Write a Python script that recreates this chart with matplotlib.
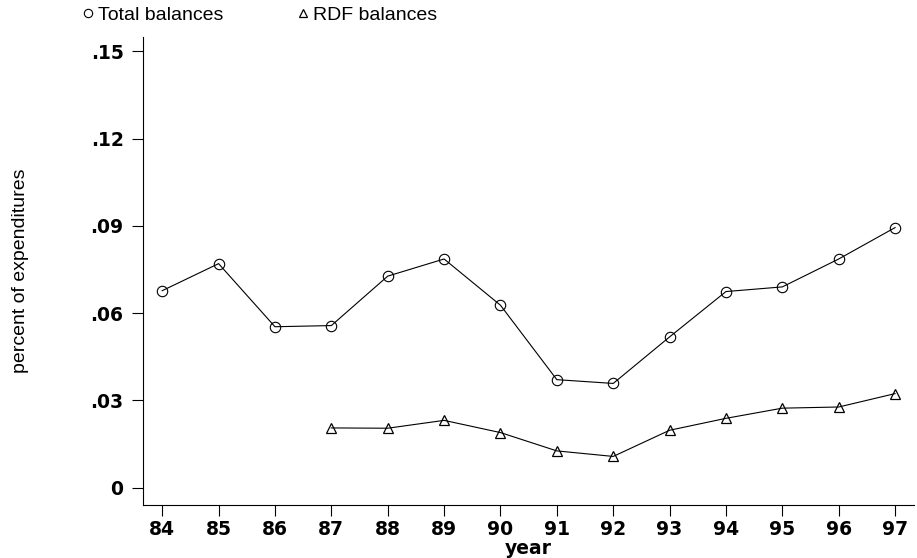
import matplotlib
matplotlib.use("Agg")
import matplotlib.pyplot as plt

years = [84, 85, 86, 87, 88, 89, 90, 91, 92, 93, 94, 95, 96, 97]
total_balances = [0.0677, 0.0770, 0.0553, 0.0557, 0.0727, 0.0786, 0.0627, 0.0371,
                  0.0358, 0.0518, 0.0674, 0.0690, 0.0786, 0.0894]
rdf_years = [87, 88, 89, 90, 91, 92, 93, 94, 95, 96, 97]
rdf_balances = [0.0205, 0.0204, 0.0231, 0.0189, 0.0126, 0.0107, 0.0197, 0.0238,
                0.0273, 0.0277, 0.0323]

ytick_vals = [0, 0.03, 0.06, 0.09, 0.12, 0.15]
ytick_labels = ["0", ".03", ".06", ".09", ".12", ".15"]

plt.rcParams["font.family"] = ["Liberation Sans", "DejaVu Sans"]

fig = plt.figure(figsize=(9.17, 5.58), dpi=100)
ax = fig.add_axes([0.156, 0.095, 0.841, 0.839])

l1, = ax.plot(years, total_balances, color="black", lw=0.8, marker="o", ms=7.5,
              mfc="none", mec="black", mew=0.8, label="Total balances")
l2, = ax.plot(rdf_years, rdf_balances, color="black", lw=0.8, marker="^", ms=7.5,
              mfc="none", mec="black", mew=0.9, label="RDF balances")

ax.set_xlim(83.66, 97.34)
ax.set_ylim(-0.006, 0.155)
ax.set_xticks(years)
ax.set_xticklabels([str(y) for y in years])
ax.set_yticks(ytick_vals)
ax.set_yticklabels(ytick_labels)

for s in ["top", "right"]:
    ax.spines[s].set_visible(False)
for s in ["left", "bottom"]:
    ax.spines[s].set_linewidth(0.8)

ax.tick_params(direction="out", length=8, width=0.8, labelsize=13.5)
ax.tick_params(axis="x", pad=3)
ax.tick_params(axis="y", pad=6)
for lab in ax.get_xticklabels() + ax.get_yticklabels():
    lab.set_family("DejaVu Sans")
    lab.set_fontweight("bold")

ax.set_xlabel("year", fontsize=13.5, fontweight="bold", family="DejaVu Sans",
              labelpad=0)
ax.set_ylabel("percent of expenditures", fontsize=14, labelpad=44)

leg = fig.legend([l1, l2], ["Total balances", "RDF balances"], ncol=2,
                 loc="upper left", bbox_to_anchor=(0.0774, 1.02), frameon=False,
                 fontsize=14, markerscale=0.8, handlelength=0.0, handletextpad=0.5,
                 columnspacing=4.1)
for h in leg.legend_handles:
    h.set_linestyle("none")

fig.savefig("out.png", dpi=100)
